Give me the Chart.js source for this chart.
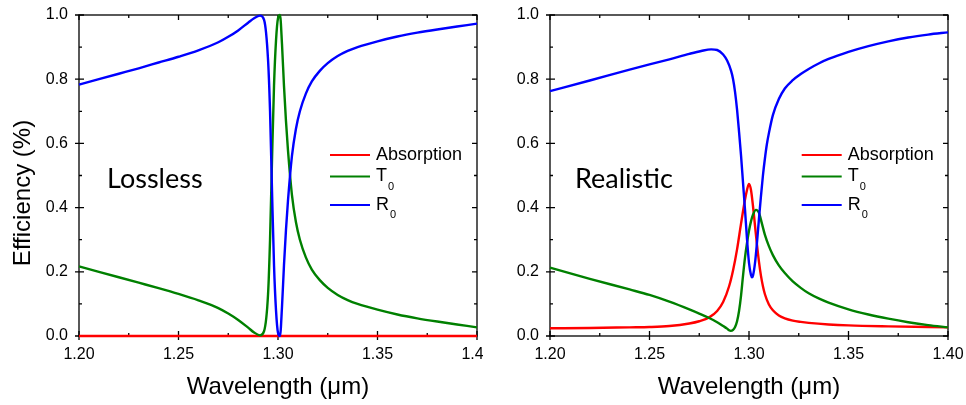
<!DOCTYPE html>
<html>
<head>
<meta charset="utf-8">
<script src="https://cdn.jsdelivr.net/npm/chart.js@4.4.1/dist/chart.umd.min.js"></script>
<style>
html, body { margin: 0; padding: 0; background: #fff; }
.panel { position: absolute; top: 0; }
</style>
</head>
<body>
<div class="panel" style="left:0"><canvas id="lossless" width="483" height="405"></canvas></div>
<div class="panel" style="left:483px"><canvas id="realistic" width="483" height="405"></canvas></div>
<script>
// wavelength in um, efficiency
const losslessWl = [1.20, 1.21, 1.22, 1.23, 1.24, 1.25, 1.26, 1.27, 1.275, 1.28, 1.285, 1.288, 1.291, 1.293, 1.295, 1.296, 1.297, 1.298, 1.299, 1.300, 1.301, 1.302, 1.303, 1.304, 1.305, 1.307, 1.309, 1.311, 1.314, 1.317, 1.321, 1.325, 1.33, 1.335, 1.34, 1.35, 1.36, 1.37, 1.38, 1.39, 1.40];
const losslessR0 = [0.783, 0.800, 0.817, 0.834, 0.852, 0.870, 0.890, 0.915, 0.932, 0.952, 0.976, 0.990, 0.998, 0.985, 0.860, 0.700, 0.450, 0.220, 0.080, 0.010, 0.000, 0.090, 0.220, 0.330, 0.420, 0.560, 0.645, 0.700, 0.755, 0.793, 0.826, 0.850, 0.872, 0.888, 0.900, 0.918, 0.933, 0.945, 0.955, 0.964, 0.973];
const losslessT0 = [0.217, 0.200, 0.183, 0.166, 0.149, 0.131, 0.111, 0.087, 0.070, 0.050, 0.026, 0.011, 0.002, 0.015, 0.130, 0.300, 0.550, 0.780, 0.920, 0.990, 1.000, 0.910, 0.780, 0.670, 0.580, 0.440, 0.355, 0.300, 0.245, 0.207, 0.174, 0.150, 0.128, 0.112, 0.100, 0.082, 0.067, 0.055, 0.045, 0.036, 0.027];
const losslessAbsWl = [1.20, 1.40];
const losslessAbs = [0, 0];

const realisticAbsWl = [1.200, 1.220, 1.240, 1.250, 1.260, 1.270, 1.275, 1.280, 1.284, 1.287, 1.290, 1.292, 1.294, 1.296, 1.298, 1.299, 1.300, 1.301, 1.302, 1.303, 1.304, 1.305, 1.306, 1.307, 1.308, 1.310, 1.312, 1.315, 1.318, 1.322, 1.326, 1.330, 1.340, 1.350, 1.370, 1.400];
const realisticAbs = [0.024, 0.025, 0.027, 0.028, 0.031, 0.039, 0.046, 0.058, 0.078, 0.106, 0.155, 0.205, 0.270, 0.350, 0.425, 0.455, 0.474, 0.455, 0.405, 0.345, 0.285, 0.232, 0.188, 0.155, 0.130, 0.098, 0.080, 0.064, 0.055, 0.048, 0.044, 0.041, 0.036, 0.033, 0.030, 0.027];

const realisticT0Wl = [1.200, 1.220, 1.240, 1.250, 1.260, 1.270, 1.275, 1.280, 1.284, 1.287, 1.289, 1.290, 1.2908, 1.292, 1.293, 1.294, 1.295, 1.296, 1.297, 1.298, 1.299, 1.300, 1.301, 1.302, 1.3035, 1.305, 1.3065, 1.308, 1.310, 1.312, 1.315, 1.318, 1.322, 1.326, 1.330, 1.335, 1.340, 1.350, 1.360, 1.370, 1.380, 1.390, 1.400];
const realisticT0 = [0.213, 0.178, 0.145, 0.128, 0.107, 0.083, 0.070, 0.056, 0.043, 0.031, 0.023, 0.018, 0.016, 0.019, 0.028, 0.046, 0.078, 0.126, 0.188, 0.245, 0.290, 0.328, 0.357, 0.378, 0.393, 0.384, 0.350, 0.315, 0.280, 0.252, 0.220, 0.196, 0.170, 0.150, 0.133, 0.117, 0.104, 0.083, 0.067, 0.054, 0.043, 0.034, 0.027];

const realisticR0Wl = [1.200, 1.220, 1.240, 1.260, 1.270, 1.276, 1.281, 1.284, 1.287, 1.289, 1.291, 1.292, 1.293, 1.294, 1.295, 1.296, 1.297, 1.298, 1.299, 1.300, 1.301, 1.3015, 1.302, 1.303, 1.304, 1.305, 1.306, 1.307, 1.308, 1.309, 1.310, 1.312, 1.315, 1.318, 1.322, 1.326, 1.330, 1.335, 1.340, 1.350, 1.360, 1.370, 1.380, 1.390, 1.400];
const realisticR0 = [0.763, 0.796, 0.830, 0.862, 0.879, 0.888, 0.893, 0.891, 0.877, 0.858, 0.826, 0.800, 0.760, 0.705, 0.636, 0.562, 0.477, 0.393, 0.302, 0.228, 0.190, 0.183, 0.188, 0.226, 0.290, 0.365, 0.435, 0.500, 0.553, 0.598, 0.632, 0.688, 0.738, 0.771, 0.797, 0.816, 0.832, 0.849, 0.863, 0.885, 0.903, 0.918, 0.930, 0.939, 0.946];

const xTicks = [1.20, 1.25, 1.30, 1.35, 1.40];
const yTicks = [0, 0.2, 0.4, 0.6, 0.8, 1.0];
const legendNames = [['Absorption', ''], ['T', '0'], ['R', '0']];
const colors = ['#ff0000', '#008000', '#0000ff'];

const tickFont = { family: 'Liberation Sans', size: 16 };

function pts(xs, ys) {
    return xs.map((v, i) => ({ x: v, y: ys[i] }));
}

function line(label, data, color, order) {
    return {
        label: label,
        data: data,
        borderColor: color,
        backgroundColor: 'transparent',
        borderWidth: 2.4,
        pointRadius: 0,
        cubicInterpolationMode: 'monotone',
        fill: false,
        clip: 3,
        order: order
    };
}

// box with inside/outside ticks under the curves; legend and panel label on top
const framePlugin = {
    id: 'framePlugin',
    beforeDatasetsDraw(chart) {
        const ctx = chart.ctx;
        const a = chart.chartArea;
        const x = chart.scales.x, y = chart.scales.y;
        ctx.save();
        ctx.strokeStyle = '#000';
        ctx.lineWidth = 1.3;
        ctx.strokeRect(a.left, a.top, a.right - a.left, a.bottom - a.top);
        ctx.beginPath();
        const xs = x.ticks.map(t => t.value);
        xs.forEach((v, i) => {
            let px = x.getPixelForValue(v);
            ctx.moveTo(px, a.bottom + 4); ctx.lineTo(px, a.bottom - 5);
            ctx.moveTo(px, a.top); ctx.lineTo(px, a.top + 5);
            if (i < xs.length - 1) {
                let m = x.getPixelForValue((v + xs[i + 1]) / 2);
                ctx.moveTo(m, a.bottom); ctx.lineTo(m, a.bottom - 3);
                ctx.moveTo(m, a.top); ctx.lineTo(m, a.top + 3);
            }
        });
        const ys = y.ticks.map(t => t.value);
        ys.forEach((v, i) => {
            let py = y.getPixelForValue(v);
            ctx.moveTo(a.left - 4, py); ctx.lineTo(a.left + 5, py);
            ctx.moveTo(a.right, py); ctx.lineTo(a.right - 5, py);
            if (i < ys.length - 1) {
                let m = y.getPixelForValue((v + ys[i + 1]) / 2);
                ctx.moveTo(a.left, m); ctx.lineTo(a.left + 3, m);
                ctx.moveTo(a.right, m); ctx.lineTo(a.right - 3, m);
            }
        });
        ctx.stroke();
        ctx.restore();
    },
    afterDatasetsDraw(chart, args, opts) {
        const ctx = chart.ctx;
        ctx.save();
        // legend
        const rows = [155, 176.5, 205];
        ctx.lineWidth = 2.2;
        ctx.fillStyle = '#000';
        legendNames.forEach((n, i) => {
            ctx.strokeStyle = colors[i];
            ctx.beginPath();
            ctx.moveTo(opts.legendX, rows[i]);
            ctx.lineTo(opts.legendX + 40, rows[i]);
            ctx.stroke();
            ctx.font = '18px "Liberation Sans"';
            ctx.textBaseline = 'middle';
            ctx.textAlign = 'left';
            let tx = opts.legendX + 46;
            ctx.fillText(n[0], tx, rows[i]);
            if (n[1]) {
                let w = ctx.measureText(n[0]).width;
                ctx.font = '11px "Liberation Sans"';
                ctx.textBaseline = 'alphabetic';
                ctx.fillText(n[1], tx + w + 1, rows[i] + 13);
            }
        });

        ctx.font = '27px Lato';
        ctx.textBaseline = 'alphabetic';
        ctx.fillStyle = '#000';
        ctx.fillText(opts.label, opts.labelX, 188);

        if (opts.yTitle) {
            ctx.translate(23, 193);
            ctx.rotate(-Math.PI / 2);
            ctx.font = '24px "Liberation Sans"';
            ctx.textAlign = 'center';
            ctx.textBaseline = 'middle';
            ctx.fillText(opts.yTitle, 0, 0);
        }
        ctx.restore();
    }
};

function makeChart(id, datasets, yWidth, padRight, pluginOpts) {
    return new Chart(document.getElementById(id), {
        type: 'line',
        data: { datasets: datasets },
        options: {
            responsive: false,
            animation: false,
            layout: { padding: { top: 15, right: padRight, left: 0, bottom: 0 } },
            plugins: {
                legend: { display: false },
                tooltip: { enabled: false },
                framePlugin: pluginOpts
            },
            scales: {
                x: {
                    type: 'linear',
                    min: 1.2,
                    max: 1.4,
                    afterBuildTicks: s => { s.ticks = xTicks.map(v => ({ value: v })); },
                    afterFit: s => { s.height = 69; s.paddingLeft = 0; s.paddingRight = 0; },
                    grid: { display: false, drawTicks: false },
                    border: { display: false },
                    ticks: {
                        color: '#000',
                        font: tickFont,
                        padding: 9,
                        maxRotation: 0,
                        callback: v => v.toFixed(2)
                    },
                    title: {
                        display: true,
                        text: 'Wavelength (\u03bcm)',
                        color: '#000',
                        font: { family: 'Liberation Sans', size: 24 },
                        padding: { top: 0, bottom: 3 }
                    }
                },
                y: {
                    type: 'linear',
                    min: 0,
                    max: 1,
                    afterBuildTicks: s => { s.ticks = yTicks.map(v => ({ value: v })); },
                    afterFit: s => { s.width = yWidth; s.paddingTop = 0; s.paddingBottom = 0; },
                    grid: { display: false, drawTicks: false },
                    border: { display: false },
                    ticks: {
                        color: '#000',
                        font: tickFont,
                        padding: 11,
                        callback: v => v.toFixed(1)
                    }
                }
            }
        },
        plugins: [framePlugin]
    });
}

makeChart('lossless', [
    line('Absorption', pts(losslessAbsWl, losslessAbs), colors[0], 2),
    line('T0', pts(losslessWl, losslessT0), colors[1], 1),
    line('R0', pts(losslessWl, losslessR0), colors[2], 0)
], 79, 6, { legendX: 330, label: 'Lossless', labelX: 107, yTitle: 'Efficiency (%)' });

makeChart('realistic', [
    line('Absorption', pts(realisticAbsWl, realisticAbs), colors[0], 2),
    line('T0', pts(realisticT0Wl, realisticT0), colors[1], 1),
    line('R0', pts(realisticR0Wl, realisticR0), colors[2], 0)
], 67, 18, { legendX: 318.7, label: 'Realistic', labelX: 92, yTitle: '' });
</script>
</body>
</html>
